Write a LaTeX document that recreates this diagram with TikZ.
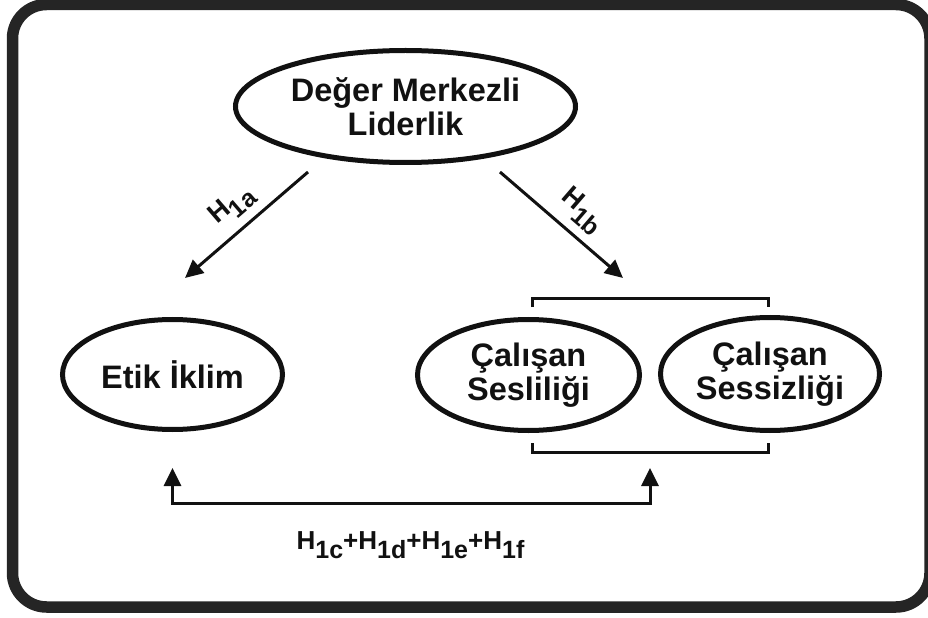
\documentclass[tikz,border=0pt]{standalone}
\usepackage{fontspec}
\setmainfont{Liberation Sans}
\usetikzlibrary{arrows.meta,shapes.geometric}
\definecolor{ink}{HTML}{111111}
\definecolor{framegray}{HTML}{252525}
% hypothesis label: H with a lowered index
\newcommand\hyplabel[1]{H\raisebox{-9bp}{\fontsize{25bp}{25bp}\selectfont 1#1}}

\begin{document}
\begin{tikzpicture}[x=1bp,y=-1bp,
  concept/.style={ellipse, draw=ink, line width=5bp, inner sep=0pt, align=center,
    font=\bfseries\fontsize{32.5bp}{34.5bp}\selectfont, text=ink},
  link/.style={draw=ink, line width=3bp},
  tipped/.style={-{Triangle[length=18bp,width=17bp]}},
  hyp/.style={font=\bfseries\fontsize{27bp}{27bp}\selectfont, text=ink, inner sep=0pt}]
\useasboundingbox (0,0) rectangle (928,618);

% outer frame
\draw[framegray, line width=11.5bp, rounded corners=34bp] (12.5,4.5) rectangle (930,607);

% concepts
\node[concept, minimum width=340bp, minimum height=112bp] (dml) at (405.5,106.5) {Değer Merkezli\\Liderlik};
\node[concept, minimum width=220bp, minimum height=110bp] (etik) at (172.5,374.5) {Etik İklim};
\node[concept, minimum width=222bp, minimum height=111bp] (ses) at (528.5,375) {Çalışan\\Sesliliği};
\node[concept, minimum width=219bp, minimum height=113bp] (sess) at (770,374) {Çalışan\\Sessizliği};

% arrows from the leader node
\coordinate (a1s) at (308,172);
\coordinate (a1e) at (185,278);
\coordinate (a2s) at (500,172);
\coordinate (a2e) at (623,278);
\draw[link, tipped] (a1s) -- (a1e);
\draw[link, tipped] (a2s) -- (a2e);
\node[hyp, rotate=40.8] (h1a) at (232,206) {\hyplabel{a}};
\node[hyp, rotate=-40.8] (h1b) at (582,211) {\hyplabel{b}};

% brackets grouping voice and silence
\coordinate (bt1) at (532,307);
\coordinate (bt2) at (768,298);
\coordinate (bt3) at (768,307);
\draw[link] (bt1) |- (bt2) -- (bt3);
\coordinate (bb1) at (532,443);
\coordinate (bb2) at (768,452);
\coordinate (bb3) at (768,443);
\draw[link] (bb1) |- (bb2) -- (bb3);

% two-way relation at the bottom
\coordinate (bl) at (172.5,468);
\coordinate (bm) at (650,503);
\coordinate (br) at (650,468);
\draw[link, {Triangle[length=18bp,width=17bp]}-{Triangle[length=18bp,width=17bp]}]
  (bl) |- (bm) -- (br);
\node[hyp, font=\bfseries\fontsize{26bp}{26bp}\selectfont] (hall) at (410.5,545) {\hyplabel{c}+\hyplabel{d}+\hyplabel{e}+\hyplabel{f}};
\end{tikzpicture}
\end{document}
